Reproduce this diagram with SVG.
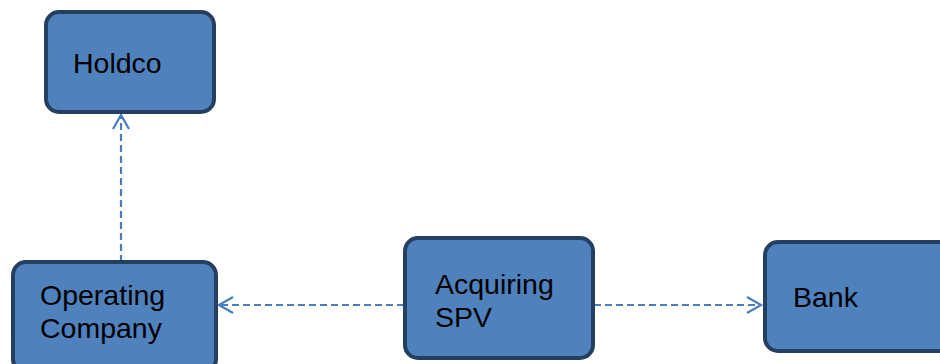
<svg xmlns="http://www.w3.org/2000/svg" width="940" height="364" viewBox="0 0 940 364">
<style>
.box{fill:#4f81bd;stroke:#243f60;stroke-width:4}
.t{font-family:"Liberation Sans",Arial,sans-serif;font-size:28.5px;fill:#000}
.c{fill:none;stroke:#4a7ebb;stroke-width:2.2;stroke-dasharray:7,4}
</style>
<defs>
<marker id="arr" markerWidth="18" markerHeight="18" refX="15" refY="9" orient="auto" markerUnits="userSpaceOnUse">
<path d="M1,1 L15,9 L1,17" fill="none" stroke="#4a7ebb" stroke-width="2.2"/>
</marker>
</defs>
<g id="connectors">
<line class="c" x1="121" y1="262" x2="121" y2="115" marker-end="url(#arr)"/>
<line class="c" x1="404" y1="305" x2="219" y2="305" marker-end="url(#arr)"/>
<line class="c" x1="594" y1="305" x2="761" y2="305" marker-end="url(#arr)"/>
</g>
<g id="holdco">
<rect class="box" x="46" y="12" width="168" height="100" rx="13"/>
<text class="t" x="73" y="73">Holdco</text>
</g>
<g id="operating">
<rect class="box" x="13" y="262" width="203" height="110" rx="13"/>
<text class="t" x="40" y="305">Operating</text>
<text class="t" x="40" y="338">Company</text>
</g>
<g id="spv">
<rect class="box" x="405" y="238" width="188" height="120" rx="13"/>
<text class="t" x="435" y="294">Acquiring</text>
<text class="t" x="435" y="327">SPV</text>
</g>
<g id="bank">
<rect class="box" x="765" y="242" width="190" height="109" rx="13"/>
<text class="t" x="793" y="307">Bank</text>
</g>
</svg>
